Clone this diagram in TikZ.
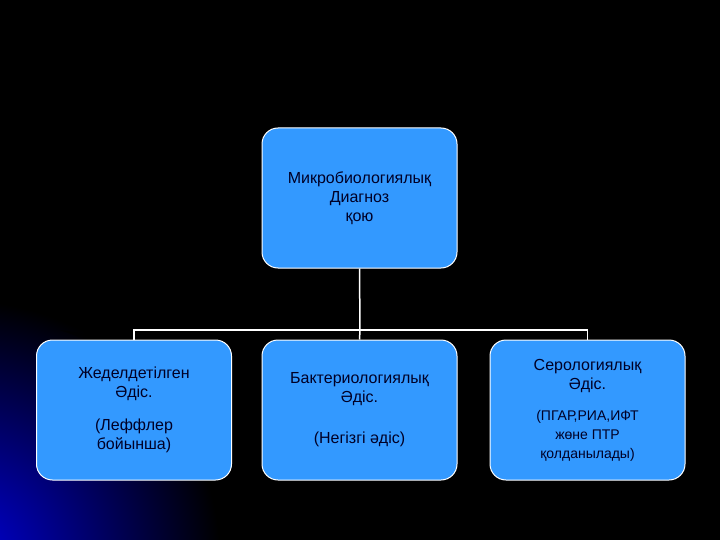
\documentclass[tikz,border=0pt]{standalone}
\usepackage{fontspec}
\setmainfont{Liberation Sans}
\begin{document}
\begin{tikzpicture}[x=1pt,y=-1pt,
  bx/.style={draw=white,line width=1pt,fill=boxblue,rounded corners=16pt,minimum width=195pt,minimum height=140pt,align=center,font=\fontsize{16}{19}\selectfont,text=black!85!blue,inner sep=2pt},
  ln/.style={draw=white,line width=1.5pt}]
\definecolor{boxblue}{HTML}{3399FF}
\fill[black] (0,0) rectangle (720,540);
\begin{scope}
\clip (0,0) rectangle (720,540);
\shade[inner color=blue!85!black,outer color=black] (-40,560) circle (260pt);
\fill[black,opacity=0.6] (60,330) .. controls (200,380) and (260,450) .. (280,540) -- (320,540) .. controls (300,430) and (220,350) .. (60,330);
\end{scope}
\useasboundingbox (0,0) rectangle (720,540);
\node[bx] (top) at (359.5,198) {Микробиологиялық\\Диагноз\\ қою};
\node[bx] (b1) at (134,410) {Жеделдетілген\\Әдіс.\\[14pt](Леффлер\\ бойынша)};
\node[bx] (b2) at (359.5,410) {Бактериологиялық\\Әдіс.\\[22pt](Негізгі әдіс)};
\node[bx] (b3) at (587.5,410) {Серологиялық\\Әдіс.\\[12pt]{\fontsize{14}{18}\selectfont (ПГАР,РИА,ИФТ}\\{\fontsize{14}{18}\selectfont жөне ПТР}\\{\fontsize{14}{18}\selectfont қолданылады)}};
\coordinate (j) at (360,330);
\draw[ln] (top.south) -- (j);
\draw[ln] (b1.north) |- (j) -| (b3.north);
\draw[ln] (j) -- (b2.north);
\end{tikzpicture}
\end{document}
